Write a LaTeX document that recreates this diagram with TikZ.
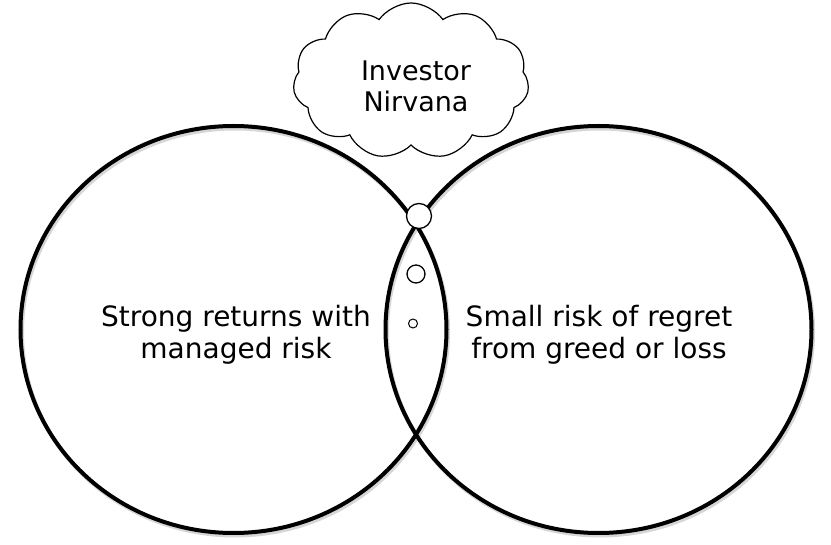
\documentclass[tikz,border=0pt]{standalone}
\usepackage{fontspec}
\setmainfont{DejaVu Sans}
\usetikzlibrary{shapes.geometric,shapes.symbols}
\tikzset{
  bigring/.style={draw=black, ellipse, line width=4pt, minimum width=426pt, minimum height=407pt, inner sep=0pt},
  ringshadow/.style={draw=black!45, opacity=0.35, line width=4pt, ellipse, minimum width=426pt, minimum height=407pt, inner sep=0pt},
  label/.style={align=center, font=\fontsize{28}{32}\selectfont, inner sep=0pt},
  bubble/.style={draw=black, fill=white, circle, line width=1.3pt, inner sep=0pt},
  cloudbox/.style={draw=black, fill=white, cloud, cloud puffs=11, cloud puff arc=110, aspect=1.5, line width=1.2pt, minimum width=236pt, minimum height=156pt, inner sep=0pt}
}
\begin{document}
\begin{tikzpicture}[x=1pt,y=-1pt]
\useasboundingbox (0,0) rectangle (831,545);
\fill[white] (0,0) rectangle (831,545);
% shadows
\node[ringshadow] (ls) at (235,332) {};
\node[ringshadow] (rs) at (600,332) {};
% circles
\node[bigring] (left) at (233.5,329.5) {};
\node[bigring] (right) at (598.5,329.5) {};
% texts
\node[label] (lt) at (236,335) {Strong returns with\\managed risk};
\node[label] (rt) at (599,335) {Small risk of regret\\from greed or loss};
% cloud
\node[cloudbox] (cloud) at (411,81) {};
\node[label, font=\fontsize{27}{31}\selectfont] (ct) at (416,86) {Investor\\Nirvana};
% bubbles
\node[bubble, minimum size=25pt] (b1) at (419,216) {};
\node[bubble, minimum size=18pt] (b2) at (416,274) {};
\node[bubble, minimum size=9pt, line width=1pt] (b3) at (413,323.5) {};
\end{tikzpicture}
\end{document}
